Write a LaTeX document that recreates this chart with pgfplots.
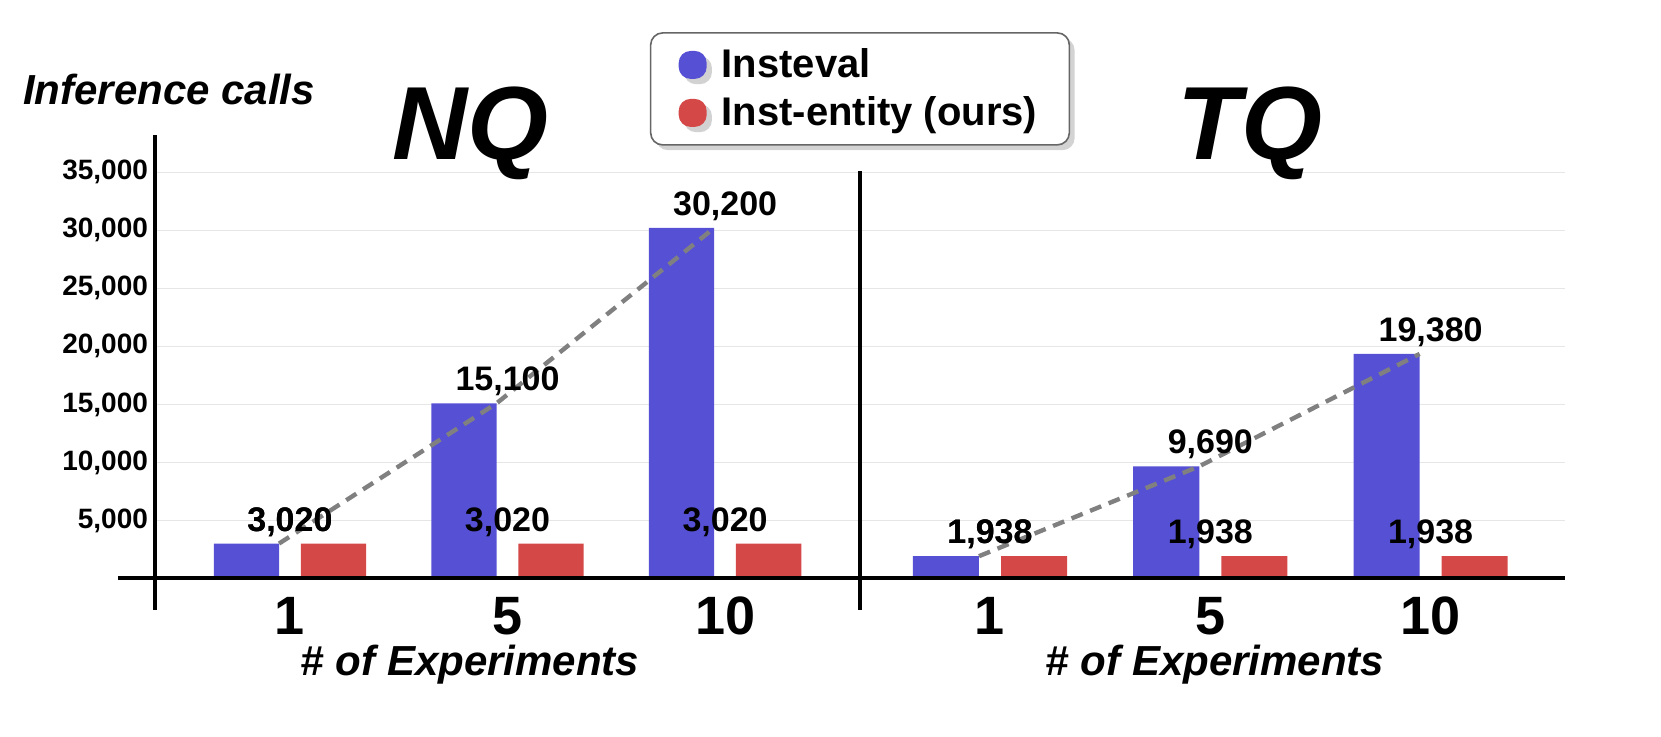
\documentclass[border=0pt]{standalone}
\usepackage{pgfplots}
\pgfplotsset{compat=1.18}
\usepackage{fontspec}
\setmainfont{Liberation Sans}
\usetikzlibrary{shadows}
\definecolor{cblue}{HTML}{5650D4}
\definecolor{cred}{HTML}{D44848}
\definecolor{cgrid}{HTML}{E6E6E6}
\pgfplotsset{
  sq/.style={legend image code/.code={\fill[##1] (0pt,-7pt) rectangle (14pt,7pt);}},
  base/.style={
    scale only axis, width=352.5pt, anchor=south west,
    axis line style={draw=none}, tick style={draw=none},
    ymin=-2700, ytick={5000,10000,...,35000}, scaled y ticks=false,
    ymajorgrids, grid style={cgrid, line width=0.6pt},
    xtick={0,1,2}, xticklabels={1,5,10},
    xticklabel style={font=\fontsize{27}{27}\bfseries\selectfont, yshift=10pt},
    /pgf/number format/assume math mode=true,
    /pgf/number format/1000 sep={,},
    yticklabel style={font=\fontsize{14}{14}\bfseries\selectfont},
    nodes near coords,
    every node near coord/.append style={font=\fontsize{17}{17}\bfseries\selectfont, /pgf/number format/1000 sep={,}, /pgf/number format/assume math mode=true},
    bar width=0.3, clip=false,
  },
  dline/.style={gray, line width=2.2pt, dash pattern=on 6pt off 4pt, nodes near coords={}}
}
\begin{document}
\begin{tikzpicture}
\begin{axis}[base, at={(77.5pt,63.5pt)}, height=237.5pt, xmin=-0.62, xmax=2.62, ymax=38200,
  legend style={at={(1.0,1.097)}, anchor=center, draw=black!60, line width=0.8pt, rounded corners=6pt, drop shadow={opacity=0.35},
    font=\fontsize{20}{22}\bfseries\selectfont, inner xsep=14pt, inner ysep=6pt, row sep=4pt, cells={anchor=west}}]
\addplot[ybar, fill=cblue, draw=none, bar shift=-0.2, sq] coordinates {(0,3020) (1,15100) (2,30200)};
\addplot[ybar, fill=cred, draw=none, bar shift=0.2, sq] coordinates {(0,3020) (1,3020) (2,3020)};
\legend{\ Insteval, \ Inst-entity (ours)}
\addplot[dline, forget plot] coordinates {(-0.05,3020) (0.95,15100) (1.95,30200)};
\draw[line width=2pt] (rel axis cs:0,0) -- (rel axis cs:0,1);
\end{axis}
\begin{axis}[base, at={(430pt,63.5pt)}, height=219.6pt, xmin=-0.59, xmax=2.61, ymax=35170, yticklabels={}]
\addplot[ybar, fill=cblue, draw=none, bar shift=-0.2] coordinates {(0,1938) (1,9690) (2,19380)};
\addplot[ybar, fill=cred, draw=none, bar shift=0.2] coordinates {(0,1938) (1,1938) (2,1938)};
\addplot[dline] coordinates {(-0.05,1938) (0.95,9690) (1.95,19380)};
\draw[line width=2pt] (rel axis cs:0,0) -- (rel axis cs:0,1);
\end{axis}
\draw[line width=2pt] (59pt,79.5pt) -- (782.5pt,79.5pt);
\node[anchor=west, font=\fontsize{21}{21}\bfseries\itshape\selectfont] at (8pt,323.5pt) {Inference calls};
\node[font=\fontsize{52}{52}\bfseries\itshape\selectfont] at (235pt,302pt) {NQ};
\node[font=\fontsize{52}{52}\bfseries\itshape\selectfont] at (625pt,302pt) {TQ};
\node[font=\fontsize{21}{21}\bfseries\itshape\selectfont] at (235pt,36pt) {\# of Experiments};
\node[font=\fontsize{21}{21}\bfseries\itshape\selectfont] at (607.5pt,36pt) {\# of Experiments};
\pgfresetboundingbox
\path (0,0) rectangle (830.5pt,368.5pt);
\end{tikzpicture}
\end{document}
